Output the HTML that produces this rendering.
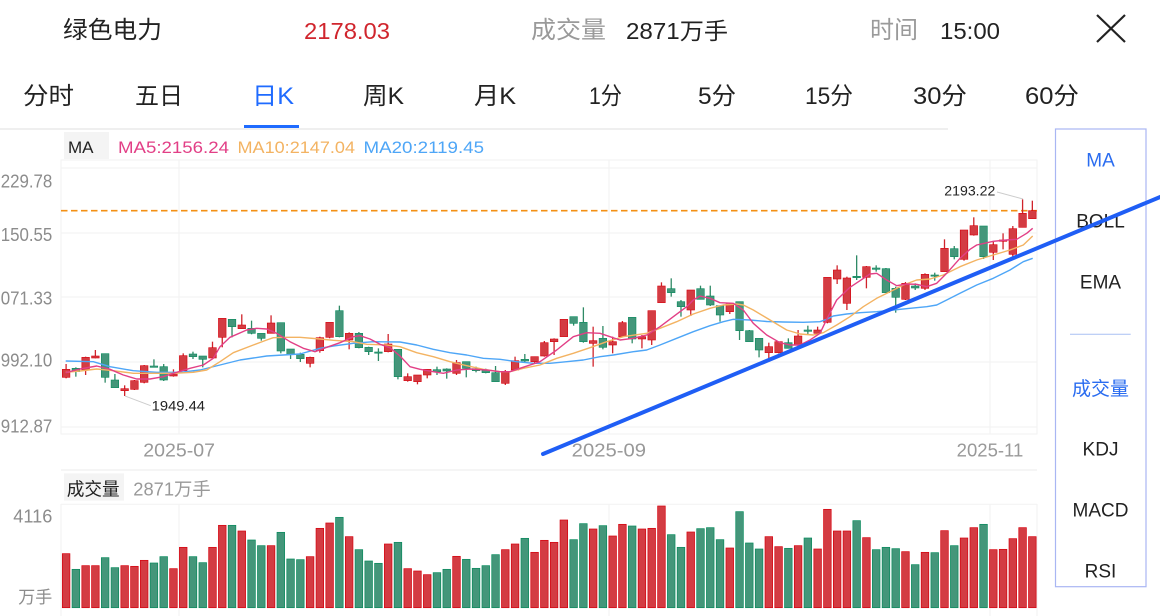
<!DOCTYPE html>
<html><head><meta charset="utf-8">
<style>
html,body{margin:0;padding:0;background:#fff;width:1160px;height:616px;overflow:hidden}
svg{display:block}
text{font-family:"Liberation Sans","Noto Sans CJK SC",sans-serif}
</style></head>
<body>
<svg id="s" width="1160" height="616" viewBox="0 0 1160 616" xmlns="http://www.w3.org/2000/svg">
<rect x="0" y="0" width="1160" height="616" fill="#fff"/>
<!-- header -->
<text x="63" y="38" font-size="24" fill="#222" textLength="99" lengthAdjust="spacingAndGlyphs">绿色电力</text>
<text x="304" y="39" font-size="23" fill="#d0252d" textLength="86" lengthAdjust="spacingAndGlyphs">2178.03</text>
<text x="531" y="38" font-size="24" fill="#9a9a9a" textLength="75" lengthAdjust="spacingAndGlyphs">成交量</text>
<text x="626" y="39" font-size="23" fill="#222" textLength="102" lengthAdjust="spacingAndGlyphs">2871万手</text>
<text x="870" y="38" font-size="24" fill="#9a9a9a" textLength="48" lengthAdjust="spacingAndGlyphs">时间</text>
<text x="940" y="39" font-size="23" fill="#222" textLength="60" lengthAdjust="spacingAndGlyphs">15:00</text>
<line x1="1097" y1="15" x2="1125" y2="42" stroke="#222" stroke-width="2.2"/>
<line x1="1125" y1="15" x2="1097" y2="42" stroke="#222" stroke-width="2.2"/>
<!-- tabs -->
<g font-size="24" fill="#222">
<text x="23" y="104" textLength="51" lengthAdjust="spacingAndGlyphs">分时</text>
<text x="135" y="104" textLength="48" lengthAdjust="spacingAndGlyphs">五日</text>
<text x="252" y="104" textLength="42" lengthAdjust="spacingAndGlyphs" fill="#1f6bff">日K</text>
<text x="363" y="104" textLength="41" lengthAdjust="spacingAndGlyphs">周K</text>
<text x="474" y="104" textLength="42" lengthAdjust="spacingAndGlyphs">月K</text>
<text x="589" y="104" textLength="33" lengthAdjust="spacingAndGlyphs">1分</text>
<text x="698" y="104" textLength="38" lengthAdjust="spacingAndGlyphs">5分</text>
<text x="805" y="104" textLength="48" lengthAdjust="spacingAndGlyphs">15分</text>
<text x="913" y="104" textLength="54" lengthAdjust="spacingAndGlyphs">30分</text>
<text x="1025" y="104" textLength="54" lengthAdjust="spacingAndGlyphs">60分</text>
</g>
<rect x="244" y="125" width="55" height="3" fill="#1f6bff"/>
<rect x="0" y="128" width="948" height="2" fill="#efefef"/>
<!-- MA legend -->
<rect x="64" y="132" width="45" height="27" fill="#f4f4f4"/>
<text x="68" y="153" font-size="17" fill="#222" textLength="25.5" lengthAdjust="spacingAndGlyphs">MA</text>
<text x="118" y="153" font-size="17" fill="#e23f86" textLength="111" lengthAdjust="spacingAndGlyphs">MA5:2156.24</text>
<text x="237.5" y="153" font-size="17" fill="#f3b362" textLength="117.5" lengthAdjust="spacingAndGlyphs">MA10:2147.04</text>
<text x="363.5" y="153" font-size="17" fill="#4ea6f7" textLength="120.5" lengthAdjust="spacingAndGlyphs">MA20:2119.45</text>
<!-- main chart frame & grid -->
<rect x="61" y="160" width="976" height="274" fill="none" stroke="#f2f2f2" stroke-width="1"/>
<g stroke="#f2f2f2" stroke-width="1">
<line x1="61" y1="168" x2="1037" y2="168"/>
<line x1="61" y1="233" x2="1037" y2="233"/>
<line x1="61" y1="297" x2="1037" y2="297"/>
<line x1="61" y1="362" x2="1037" y2="362"/>
<line x1="61" y1="427" x2="1037" y2="427"/>
<line x1="179" y1="160" x2="179" y2="434"/>
<line x1="609" y1="160" x2="609" y2="434"/>
<line x1="990" y1="160" x2="990" y2="434"/>
</g>
<g font-size="18" fill="#8c8c8c">
<text x="-8.7" y="187.3" textLength="61" lengthAdjust="spacingAndGlyphs">2229.78</text>
<text x="-8.7" y="241" textLength="61" lengthAdjust="spacingAndGlyphs">2150.55</text>
<text x="-8.7" y="304.3" textLength="61" lengthAdjust="spacingAndGlyphs">2071.33</text>
<text x="-8.7" y="366.7" textLength="61" lengthAdjust="spacingAndGlyphs">1992.10</text>
<text x="-8.7" y="432.7" textLength="61" lengthAdjust="spacingAndGlyphs">1912.87</text>
</g>
<g font-size="18" fill="#999">
<text x="143.3" y="456.7" textLength="71.7" lengthAdjust="spacingAndGlyphs">2025-07</text>
<text x="571.7" y="456.7" textLength="74.3" lengthAdjust="spacingAndGlyphs">2025-09</text>
<text x="956.7" y="456.7" textLength="66.6" lengthAdjust="spacingAndGlyphs">2025-11</text>
</g>
<line x1="61" y1="210.7" x2="1037" y2="210.7" stroke="#f39015" stroke-width="1.6" stroke-dasharray="6.5,3.5"/>
<g id="candles"></g>
<!-- MA lines -->
<polyline fill="none" stroke="#4ea6f7" stroke-width="1.4" stroke-linejoin="round" points="65.7,361 93.3,361.7 110,366.7 133.3,370.7 156.7,372.3 180,372.3 200,370 220,365 240,360 266.7,356 283.3,355 300,354 320,348.3 333.3,346 353.3,343.3 373.3,341.7 400,342 416.7,345 433.3,349.3 450,352.7 466.7,355 483.3,358.3 500,359.3 516.7,361.7 533.3,363.3 550,363.3 566.7,361.7 583.3,360 600,356.7 613.3,355 633.3,351.7 646.7,350 660,345 676.7,338.3 693.3,331.7 710,325.7 723.3,321.7 733.3,319.3 750,320 766.7,321.5 783.3,322 803.3,322.3 820,321.7 826.7,319.3 833.3,316 846.7,314 860,312.7 876.7,311.7 893.3,310 910,308.3 926.7,306.7 936.7,305 946.7,300 960,293.3 976.7,285 993.3,278.3 1010,270 1023.3,261.7 1032.7,258.3"/>
<polyline fill="none" stroke="#f3b362" stroke-width="1.4" stroke-linejoin="round" points="65.7,372.3 80,371 96.7,369 113.3,370.7 133.3,373.3 153.3,373.3 173.3,373.3 193.3,372.3 206.7,370 220,361.7 233.3,352.7 253.3,345 266.7,340 273.3,337.7 286.7,337.3 300,337.3 320,339 333.3,340.3 353.3,341.7 366.7,344.3 386.7,345 400,346.7 416.7,352.7 433.3,356.7 450,361.7 466.7,365.7 483.3,369.3 500,371.7 510,371.7 523.3,368.3 540,365 556.7,358.3 573.3,353.3 590,347.7 606.7,341.7 623.3,336.7 646.7,333.3 660,328.3 676.7,321.7 693.3,314 710,308.3 723.3,305 736.7,304 743.3,305 753.3,310 766.7,318 786.7,330 800,334 813.3,335 823.3,332.7 836.7,325 850,316.7 863.3,306.7 876.7,298.3 890,291.7 903.3,285 916.7,280 930,279 943.3,275 960,266.7 976.7,260 993.3,255 1010,250 1023.3,245 1032.7,236"/>
<polyline fill="none" stroke="#e23f86" stroke-width="1.4" stroke-linejoin="round" points="65.7,372.7 80,369 96.7,366 110,369.3 123.3,375 136.7,379 150,379 163.3,376.7 173.3,373.3 190,368.3 203.3,365 213.3,358.3 220,346.7 230,337.3 246.7,330 256.7,328.3 266.7,329 276.7,333.3 290,341.7 303.3,348.3 315,351.7 326.7,347.3 340,342.7 353.3,336.7 360,335.7 370,339 380,344.3 390,347.7 400,356 410,366.7 420,369.3 433.3,371.7 443.3,373.3 456.7,370 470,369 486.7,370 500,371.7 510,371.7 520,368.3 540,361.7 556.7,350 573.3,336.7 586.7,332.7 600,333.3 610,336.7 620,340 633.3,338.3 646.7,335 660,326.7 673.3,316.7 686.7,306.7 693.3,300 700,296 710,298.3 720,302.7 733.3,303.3 743.3,310 753.3,323.3 766.7,335 780,342.7 790,345 800,345 810,340 820,333.3 826.7,319.3 836.7,300 850,287.3 860,280.7 870,274 876.7,273.3 886.7,280 896.7,285.7 906.7,284 916.7,284.3 926.7,286.7 936.7,283.3 946.7,273.3 960,258.3 970,249.3 976.7,245 993.3,241.3 1006.7,240 1016.7,239.3 1026.7,233.3 1032.7,228.3"/>
<!-- annotations -->
<line x1="997" y1="192" x2="1023" y2="199" stroke="#cccccc" stroke-width="1"/>
<text x="944.3" y="195.7" font-size="14" fill="#222" textLength="51" lengthAdjust="spacingAndGlyphs">2193.22</text>
<line x1="125" y1="396" x2="150.7" y2="405.7" stroke="#cccccc" stroke-width="1"/>
<text x="151.7" y="410.7" font-size="14" fill="#222" textLength="53.3" lengthAdjust="spacingAndGlyphs">1949.44</text>
<!-- volume section -->
<line x1="61" y1="470" x2="1037" y2="470" stroke="#f2f2f2" stroke-width="1.5"/>
<rect x="64" y="473.3" width="60" height="27.4" fill="#f4f4f4"/>
<text x="66.7" y="495.5" font-size="18" fill="#222" textLength="53" lengthAdjust="spacingAndGlyphs">成交量</text>
<text x="133.3" y="495.5" font-size="18" fill="#999" textLength="77.4" lengthAdjust="spacingAndGlyphs">2871万手</text>
<g stroke="#f2f2f2" stroke-width="1">
<line x1="61" y1="504.3" x2="1037" y2="504.3"/>
<line x1="61" y1="504" x2="61" y2="616"/>
<line x1="179" y1="504" x2="179" y2="616"/>
<line x1="609" y1="504" x2="609" y2="616"/>
<line x1="990" y1="504" x2="990" y2="616"/>
<line x1="1037" y1="504" x2="1037" y2="616"/>
</g>
<text x="13.3" y="522.3" font-size="18" fill="#8c8c8c" textLength="39" lengthAdjust="spacingAndGlyphs">4116</text>
<text x="18.3" y="603" font-size="17" fill="#8c8c8c" textLength="34" lengthAdjust="spacingAndGlyphs">万手</text>
<g id="vols"></g>
<!-- right panel -->
<rect x="1055.5" y="129" width="90.5" height="457.7" fill="#fff" stroke="#a9b6f3" stroke-width="1.2"/>
<g font-size="19" text-anchor="middle" fill="#222">
<text x="1100.5" y="166.5" fill="#2a6cf0">MA</text>
<text x="1100.5" y="227.3">BOLL</text>
<text x="1100.5" y="288.3">EMA</text>
<text x="1100.5" y="395" fill="#2a6cf0" font-size="19">成交量</text>
<text x="1100.5" y="455.5">KDJ</text>
<text x="1100.5" y="516.7">MACD</text>
<text x="1100.5" y="577.7">RSI</text>
</g>
<line x1="1070" y1="334.3" x2="1130.7" y2="334.3" stroke="#a9c0f3" stroke-width="1"/>
<!-- trend line -->
<line x1="543" y1="454" x2="1162" y2="196.2" stroke="#1f5ef5" stroke-width="4" stroke-linecap="round"/>
</svg>
<script>
(function(){
var C="r,612,628,652,655 g,622,625,635,650 r,590,592,630,645 r,570,588,594,595 g,581,581,652,668 g,642,660,683,683 r,676,686,692,708 r,660,662,688,690 r,615,617,667,670 g,598,618,622,622 g,612,620,660,663 r,628,642,648,650 r,580,587,632,632 g,575,582,590,597 g,588,588,598,622 r,545,563,594,594 r,475,475,532,562 g,478,478,500,532 r,463,495,506,506 g,482,505,520,523 g,520,520,535,542 r,466,489,520,520 g,488,488,573,580 g,567,567,583,597 g,578,583,596,606 r,590,592,610,622 r,530,533,572,578 r,487,487,532,535 g,437,452,530,532 r,517,520,540,568 g,516,520,563,565 g,560,562,575,585 g,565,576,579,603 r,522,552,575,577 g,568,568,650,658 r,640,650,662,665 r,645,645,665,673 r,628,628,645,655 g,620,629,635,645 g,625,627,633,656 r,600,608,640,645 g,605,605,625,652 g,620,626,632,637 g,626,630,638,640 g,618,638,665,665 r,630,635,670,675 r,590,602,630,630 g,582,598,603,607 r,590,590,605,610 r,543,548,588,590 r,535,537,545,585 r,478,478,530,530 g,470,470,490,497 g,442,487,545,548 r,500,542,550,620 g,498,535,562,568 r,530,545,555,580 r,483,488,530,530 g,472,472,537,550 r,525,530,537,565 r,452,452,540,555 r,367,378,428,428 g,355,386,398,410 g,420,425,440,470 r,390,390,450,468 g,377,386,418,418 g,377,408,435,438 g,437,437,465,485 r,428,432,455,462 g,425,425,512,540 g,510,512,545,545 g,535,535,570,592 r,548,560,578,606 r,545,545,578,580 g,535,548,565,565 r,510,528,555,562 g,497,510,514,525 r,500,510,520,525 r,352,352,487,490 r,316,330,357,372 r,350,354,430,450 g,286,349,353,360 r,318,320,352,385 g,316,324,328,335 g,324,326,398,398 g,380,385,412,458 r,366,370,418,420 g,370,378,384,390 r,340,343,385,390 g,338,345,348,362 r,238,265,335,335 g,258,266,290,298 r,210,210,298,302 r,172,197,225,227 g,198,198,290,297 r,245,254,277,300 r,220,240,244,268 r,198,206,283,295 r,118,160,202,202 r,122,152,176,176".split(" ");
var V=[281,328,317,317,293,323,317,319,301,309,290,326,262,290,308,262,196,196,213,240,257,257,217,297,299,290,205,189,172,230,269,303,310,252,247,326,333,344,338,328,289,298,325,317,284,269,252,235,277,241,247,180,239,191,207,197,228,193,198,207,205,138,224,262,216,206,203,239,264,155,249,267,230,260,265,257,234,267,148,213,213,182,233,269,262,266,275,314,277,278,212,257,234,203,193,269,268,236,203,230];
var RF="#d33c43",RS="#d6000c",GF="#44967a",GS="#078a5c";
var h="",v="";
for(var i=0;i<C.length;i++){
 var p=C[i].split(","),red=p[0]=="r";
 var cx=66.1+i*9.76;
 var hi=160+(+p[1])/3,o=160+(+p[2])/3,b=160+(+p[3])/3,lo=160+(+p[4])/3;
 var bh=Math.max(1.2,b-o);
 var f=red?RF:GF,s=red?RS:GS;
 h+='<line x1="'+cx.toFixed(2)+'" y1="'+hi.toFixed(2)+'" x2="'+cx.toFixed(2)+'" y2="'+lo.toFixed(2)+'" stroke="'+(red?"#d0232b":"#2f8a66")+'" stroke-width="1.3"/>';
 h+='<rect x="'+(cx-3.8).toFixed(2)+'" y="'+o.toFixed(2)+'" width="7.6" height="'+bh.toFixed(2)+'" fill="'+f+'" stroke="'+s+'" stroke-width="0.6"/>';
 var top=460+V[i]/3,bot=607.7;
 v+='<rect x="'+(cx-3.8).toFixed(2)+'" y="'+top.toFixed(2)+'" width="7.6" height="'+(bot-top).toFixed(2)+'" fill="'+f+'" stroke="'+s+'" stroke-width="0.7"/>';
}
document.getElementById("candles").innerHTML=h;
document.getElementById("vols").innerHTML=v;
})();
</script>
</body></html>
